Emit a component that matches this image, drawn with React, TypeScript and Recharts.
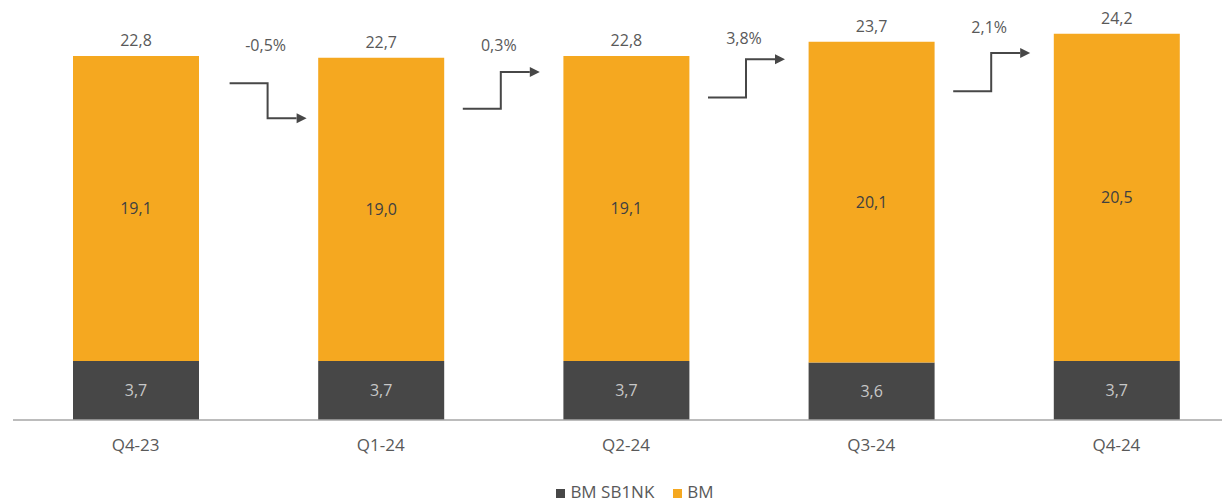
import React from "react";
import { BarChart, Bar, XAxis, YAxis, Legend, LabelList } from "recharts";

const quarters = ["Q4-23", "Q1-24", "Q2-24", "Q3-24", "Q4-24"];
const bmSb1nk = [3.7, 3.7, 3.7, 3.6, 3.7];
const bm = [19.1, 19.0, 19.1, 20.1, 20.5];
const totals = [22.8, 22.7, 22.8, 23.7, 24.2];

// quarter-on-quarter change, drawn as step arrows between bars
const changes = ["-0,5%", "0,3%", "3,8%", "2,1%"];
const arrowFrom = [21.1, 19.5, 20.2, 20.6];
const arrowTo = [18.9, 21.8, 22.6, 23.0];
const changeLabelAt = [23.5, 23.5, 23.95, 24.6];
const arrowShift = [12, 0, 0, 0];

const data = quarters.map((q, i) => ({
  quarter: q,
  sb1nk: bmSb1nk[i],
  bm: bm[i],
  total: totals[i],
}));

const series = [
  { key: "sb1nk", name: "BM SB1NK", color: "#474747" },
  { key: "bm", name: "BM", color: "#F5A820" },
];

const CHART_W = 1252;
const MARGIN = { top: 21, right: 13, left: 13, bottom: 1 };
const STEP = (CHART_W - MARGIN.left - MARGIN.right) / quarters.length;

const TEXT = "#595959";
const ARROW = "#474747";

const fmt = (v: any) => Number(v).toFixed(1).replace(".", ",");

const TopLabel = (props: any) => {
  const x = Number(props.x);
  const y = Number(props.y);
  const width = Number(props.width);
  const height = Number(props.height);
  const i = props.index as number;
  const cx = x + width / 2;
  const ppu = height / bm[i];
  const toY = (v: number) => y + (totals[i] - v) * ppu;

  let arrow = null;
  if (i < changes.length) {
    const vx = cx + STEP / 2 - 3 + arrowShift[i];
    const x0 = vx - 38;
    const x1 = vx + 29;
    const y0 = toY(arrowFrom[i]);
    const y1 = toY(arrowTo[i]);
    arrow = (
      <g>
        <path
          d={`M${x0},${y0} H${vx} V${y1} H${x1}`}
          fill="none"
          stroke={ARROW}
          strokeWidth={2}
        />
        <path d={`M${x1},${y1 - 5} L${x1 + 10},${y1} L${x1},${y1 + 5} Z`} fill={ARROW} />
        <text
          x={vx - 2}
          y={toY(changeLabelAt[i])}
          textAnchor="middle"
          dominantBaseline="central"
          fill={TEXT}
          fontSize={16}
        >
          {changes[i]}
        </text>
      </g>
    );
  }

  return (
    <g>
      <text x={cx} y={y - 10} textAnchor="middle" fill={TEXT} fontSize={16}>
        {fmt(totals[i])}
      </text>
      {arrow}
    </g>
  );
};

const LegendContent = () => (
  <div style={{ textAlign: "center", fontSize: 17, color: TEXT, lineHeight: "22px" }}>
    {series.map((s, i) => (
      <span
        key={s.key}
        style={{ marginRight: i < series.length - 1 ? 19 : 0, whiteSpace: "nowrap" }}
      >
        <span
          style={{
            display: "inline-block",
            width: 9,
            height: 9,
            background: s.color,
            marginRight: 5,
          }}
        />
        {s.name}
      </span>
    ))}
  </div>
);

export default function App() {
  return (
    <div
      style={{
        position: "absolute",
        top: 0,
        left: 0,
        width: 1222,
        height: 504,
        overflow: "hidden",
        background: "#fff",
        fontFamily: "'Open Sans', sans-serif",
      }}
    >
      <BarChart width={CHART_W} height={504} data={data} margin={MARGIN} barSize={126}>
        <XAxis
          dataKey="quarter"
          axisLine={{ stroke: "#A6A6A6", strokeWidth: 1.5 }}
          tickLine={false}
          tick={{ fill: TEXT, fontSize: 17 }}
          tickMargin={13}
          height={61}
        />
        <YAxis hide domain={[0, 25]} />
        <Legend content={LegendContent} wrapperStyle={{ left: 22 }} />
        <Bar dataKey="sb1nk" name="BM SB1NK" stackId="a" fill={series[0].color} isAnimationActive={false}>
          <LabelList dataKey="sb1nk" position="center" fill="#C8C8C8" fontSize={16} formatter={fmt} />
        </Bar>
        <Bar dataKey="bm" name="BM" stackId="a" fill={series[1].color} isAnimationActive={false}>
          <LabelList dataKey="bm" position="center" fill="#404040" fontSize={16} formatter={fmt} />
          <LabelList dataKey="total" content={TopLabel} />
        </Bar>
      </BarChart>
    </div>
  );
}
